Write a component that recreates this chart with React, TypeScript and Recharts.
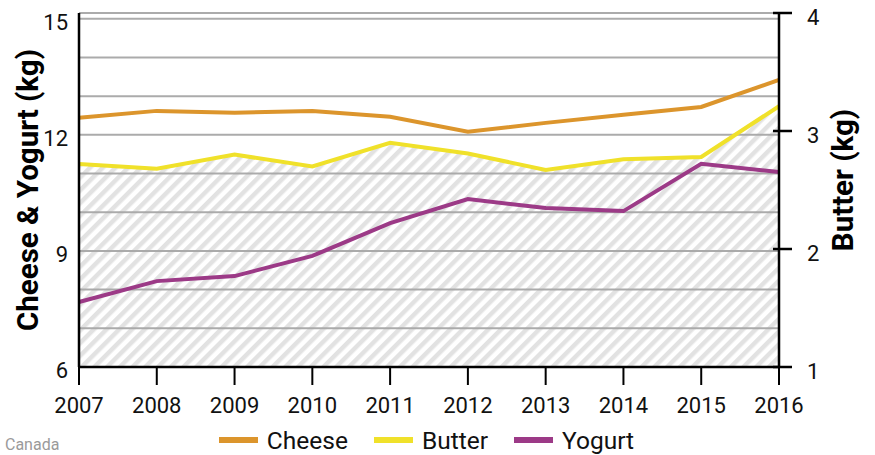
import { ComposedChart, Line, Area, XAxis, YAxis, CartesianGrid, Legend } from 'recharts';

const years = [2007, 2008, 2009, 2010, 2011, 2012, 2013, 2014, 2015, 2016];
const cheese = [12.44, 12.62, 12.57, 12.62, 12.47, 12.08, 12.31, 12.52, 12.72, 13.42];
const butter = [2.72, 2.68, 2.8, 2.7, 2.9, 2.81, 2.67, 2.76, 2.78, 3.21];
const yogurt = [7.68, 8.22, 8.35, 8.87, 9.72, 10.34, 10.11, 10.03, 11.25, 11.04];

const leftTicks = [6, 7, 8, 9, 10, 11, 12, 13, 14, 15];
const leftLabels = [6, 9, 12, 15];
const rightTicks = [1, 2, 3, 4];

const COLORS = { cheese: '#dc952c', butter: '#f0e12a', yogurt: '#9c3a87' };
const FONT = 'Roboto, sans-serif';

const data = years.map((year, i) => ({
  year,
  cheese: cheese[i],
  butter: butter[i],
  yogurt: yogurt[i],
}));

const legendItems = [
  { name: 'Cheese', color: COLORS.cheese },
  { name: 'Butter', color: COLORS.butter },
  { name: 'Yogurt', color: COLORS.yogurt },
];

function LeftTick({ x, y, payload }: any) {
  if (!leftLabels.includes(payload.value)) return null;
  return (
    <text x={x - 11} y={y + 11} textAnchor="end" fontSize={22} fill="#111" fontFamily={FONT}>
      {payload.value}
    </text>
  );
}

function RightTick({ x, y, payload }: any) {
  return (
    <g>
      <line x1={x - 6} x2={x + 13} y1={y} y2={y} stroke="#000" strokeWidth={2.5} />
      <text x={x + 28} y={y + 12} textAnchor="start" fontSize={22} fill="#111" fontFamily={FONT}>
        {payload.value}
      </text>
    </g>
  );
}

function BottomTick({ x, y, payload }: any) {
  return (
    <text x={x} y={y + 28} textAnchor="middle" fontSize={22} fill="#111" fontFamily={FONT}>
      {payload.value}
    </text>
  );
}

function AxisTitle({ viewBox, value, dx, dy = 0 }: any) {
  const cx = viewBox.x + dx;
  const cy = viewBox.y + viewBox.height / 2 + dy;
  return (
    <text
      x={cx}
      y={cy}
      transform={`rotate(-90, ${cx}, ${cy})`}
      textAnchor="middle"
      dominantBaseline="central"
      fontSize={29.5}
      fontWeight={700}
      fill="#000"
      fontFamily={FONT}
    >
      {value}
    </text>
  );
}

function LegendContent() {
  return (
    <div style={{ position: 'relative', height: 30, fontFamily: FONT }}>
      <span style={{ position: 'absolute', left: 5, top: 10, fontSize: 16, color: '#9a9a9a' }}>Canada</span>
      <div style={{ display: 'flex', justifyContent: 'center', alignItems: 'center', height: 30, paddingRight: 22 }}>
        {legendItems.map(it => (
          <div key={it.name} style={{ display: 'flex', alignItems: 'center', margin: '0 13px' }}>
            <span style={{ display: 'inline-block', width: 39, height: 6, background: it.color, marginRight: 9 }} />
            <span style={{ fontSize: 24.5, color: '#111' }}>{it.name}</span>
          </div>
        ))}
      </div>
    </div>
  );
}

export default function App() {
  return (
    <div style={{ position: 'absolute', left: 0, top: 0, width: 875, height: 455, background: '#fff' }}>
      <ComposedChart width={875} height={455} data={data} margin={{ top: 13, right: 0, bottom: 0, left: 0 }}>
        <defs>
          <pattern id="hatch" patternUnits="userSpaceOnUse" width={9} height={9} patternTransform="rotate(45)">
            <rect x={0} y={0} width={4.5} height={9} fill="#a8a8a8" fillOpacity={0.33} />
          </pattern>
        </defs>
        <CartesianGrid vertical={false} stroke="#ababab" strokeWidth={2} />
        <XAxis
          dataKey="year"
          type="number"
          domain={[2007, 2016]}
          ticks={years}
          height={58}
          tickSize={18}
          tickMargin={0}
          tick={<BottomTick />}
          axisLine={{ stroke: '#000', strokeWidth: 2.5 }}
          tickLine={{ stroke: '#000', strokeWidth: 2 }}
          allowDecimals={false}
        />
        <YAxis
          yAxisId={0}
          orientation="left"
          domain={[6, 15.15]}
          ticks={leftTicks}
          width={79}
          tickSize={0}
          tickMargin={0}
          tick={<LeftTick />}
          tickLine={false}
          axisLine={{ stroke: '#000', strokeWidth: 2.5 }}
          allowDataOverflow
          label={<AxisTitle value="Cheese & Yogurt (kg)" dx={28} />}
        />
        <YAxis
          yAxisId="right"
          orientation="right"
          domain={[1, 4]}
          ticks={rightTicks}
          width={96}
          tickSize={0}
          tickMargin={0}
          tick={<RightTick />}
          tickLine={false}
          axisLine={{ stroke: '#000', strokeWidth: 2.5 }}
          label={<AxisTitle value="Butter (kg)" dx={64} dy={-10} />}
        />
        <Area
          yAxisId="right"
          dataKey="butter"
          type="linear"
          stroke={COLORS.butter}
          strokeWidth={4}
          fill="url(#hatch)"
          fillOpacity={1}
          dot={false}
          activeDot={false}
          isAnimationActive={false}
        />
        <Line
          yAxisId={0}
          dataKey="cheese"
          type="linear"
          stroke={COLORS.cheese}
          strokeWidth={4}
          dot={false}
          activeDot={false}
          isAnimationActive={false}
        />
        <Line
          yAxisId={0}
          dataKey="yogurt"
          type="linear"
          stroke={COLORS.yogurt}
          strokeWidth={4}
          dot={false}
          activeDot={false}
          isAnimationActive={false}
        />
        <Legend verticalAlign="bottom" height={30} content={<LegendContent />} />
      </ComposedChart>
    </div>
  );
}
